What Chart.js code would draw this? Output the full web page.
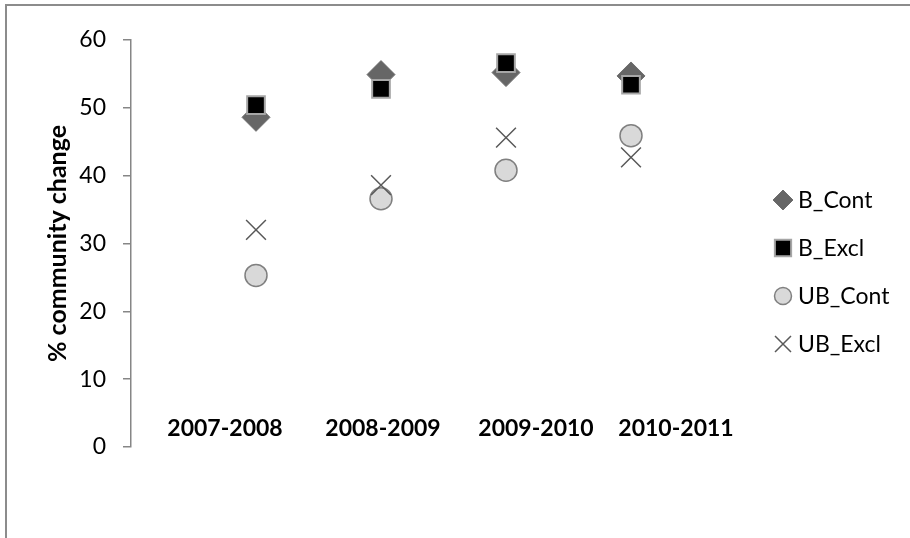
<!DOCTYPE html>
<html>
<head>
<meta charset="utf-8">
<script src="https://cdn.jsdelivr.net/npm/chart.js@4"></script>
<style>
  html, body { margin: 0; padding: 0; background: #fff; }
  #wrap { position: relative; width: 910px; height: 538px; overflow: hidden; }
  #frame { position: absolute; left: 5px; top: 4px; width: 920px; height: 560px;
           border-left: 2px solid #8c8c8c; border-top: 2px solid #8c8c8c; }
  canvas { position: absolute; left: 0; top: 0; }
</style>
</head>
<body>
<div id="wrap">
  <div id="frame"></div>
  <canvas id="chart" width="910" height="538"></canvas>
</div>
<script>
// ---- data ----
const categories = ['2007-2008', '2008-2009', '2009-2010', '2010-2011']
const bCont = [48.6, 54.9, 55.2, 54.7]
const bExcl = [50.4, 52.8, 56.6, 53.4]
const ubCont = [25.3, 36.6, 40.8, 45.9]
const ubExcl = [32.0, 38.6, 45.6, 42.7]
const yTicks = [0, 10, 20, 30, 40, 50, 60]

const toPoints = (vals) => vals.map((v, i) => ({ x: i + 1, y: v }))

const seriesStyle = [
  { label: 'B_Cont', data: bCont, pointStyle: 'rectRot', r: 14, lr: 10, bg: '#666666', bc: '#6e6e6e', bw: 1 },
  { label: 'B_Excl', data: bExcl, pointStyle: 'rect', r: 12.5, lr: 11.5, bg: '#000000', bc: '#a6a6a6', bw: 2 },
  { label: 'UB_Cont', data: ubCont, pointStyle: 'circle', r: 11, lr: 8.5, bg: '#d9d9d9', bc: '#808080', bw: 1.5 },
  { label: 'UB_Excl', data: ubExcl, pointStyle: 'crossRot', r: 14, lr: 11.3, bg: '#595959', bc: '#595959', bw: 1.5 }
]

// label shifts (px) for the category captions, relative to their marker column
const captionShift = [-31, 2, 30, 45]

const overlay = {
  id: 'overlay',
  afterDraw(chart) {
    const { ctx, scales: { x, y } } = chart
    ctx.save()
    // category captions
    ctx.font = 'bold 23px Lato'
    ctx.fillStyle = '#000'
    ctx.textAlign = 'center'
    ctx.textBaseline = 'middle'
    categories.forEach((c, i) => {
      ctx.fillText(c, x.getPixelForValue(i + 1) + captionShift[i], y.getPixelForValue(0) - 18)
    })
    // legend
    const lx = chart.chartArea.right + 27
    let ly = 200
    ctx.font = '23px Lato'
    ctx.textAlign = 'left'
    seriesStyle.forEach((s) => {
      ctx.fillStyle = s.bg
      ctx.strokeStyle = s.bc
      ctx.lineWidth = s.bw
      Chart.helpers.drawPoint(ctx, { pointStyle: s.pointStyle, radius: s.lr, rotation: 0, borderWidth: s.bw }, lx, ly)
      ctx.fillStyle = '#000'
      ctx.fillText(s.label, lx + 15, ly + 1)
      ly += 48
    })
    ctx.restore()
  }
}

new Chart(document.getElementById('chart'), {
  type: 'scatter',
  data: {
    datasets: seriesStyle.map((s, i) => ({
      label: s.label,
      data: toPoints(s.data),
      pointStyle: s.pointStyle,
      pointRadius: s.r,
      pointHoverRadius: s.r,
      backgroundColor: s.bg,
      borderColor: s.bc,
      pointBorderWidth: s.bw,
      order: seriesStyle.length - i
    }))
  },
  options: {
    responsive: false,
    animation: false,
    layout: { padding: { left: 0, top: 40, right: 154, bottom: 91 } },
    plugins: { legend: { display: false }, tooltip: { enabled: false } },
    scales: {
      x: { type: 'linear', min: 0, max: 5, display: false },
      y: {
        min: 0,
        max: 60,
        afterBuildTicks: (s) => { s.ticks = yTicks.map((v) => ({ value: v })) },
        afterFit: (s) => { s.width = 131 },
        grid: { drawOnChartArea: false, drawTicks: true, tickLength: 8, color: '#868686', lineWidth: 1.5 },
        border: { display: true, color: '#868686', width: 1.5 },
        ticks: { color: '#000', padding: 17, font: { family: 'Lato', size: 23 } },
        title: {
          display: true,
          text: '% community change',
          color: '#000',
          font: { family: 'Lato', size: 25, weight: 'bold', lineHeight: 1.2 },
          padding: { top: 43, bottom: 0 }
        }
      }
    }
  },
  plugins: [overlay]
})
</script>
</body>
</html>
